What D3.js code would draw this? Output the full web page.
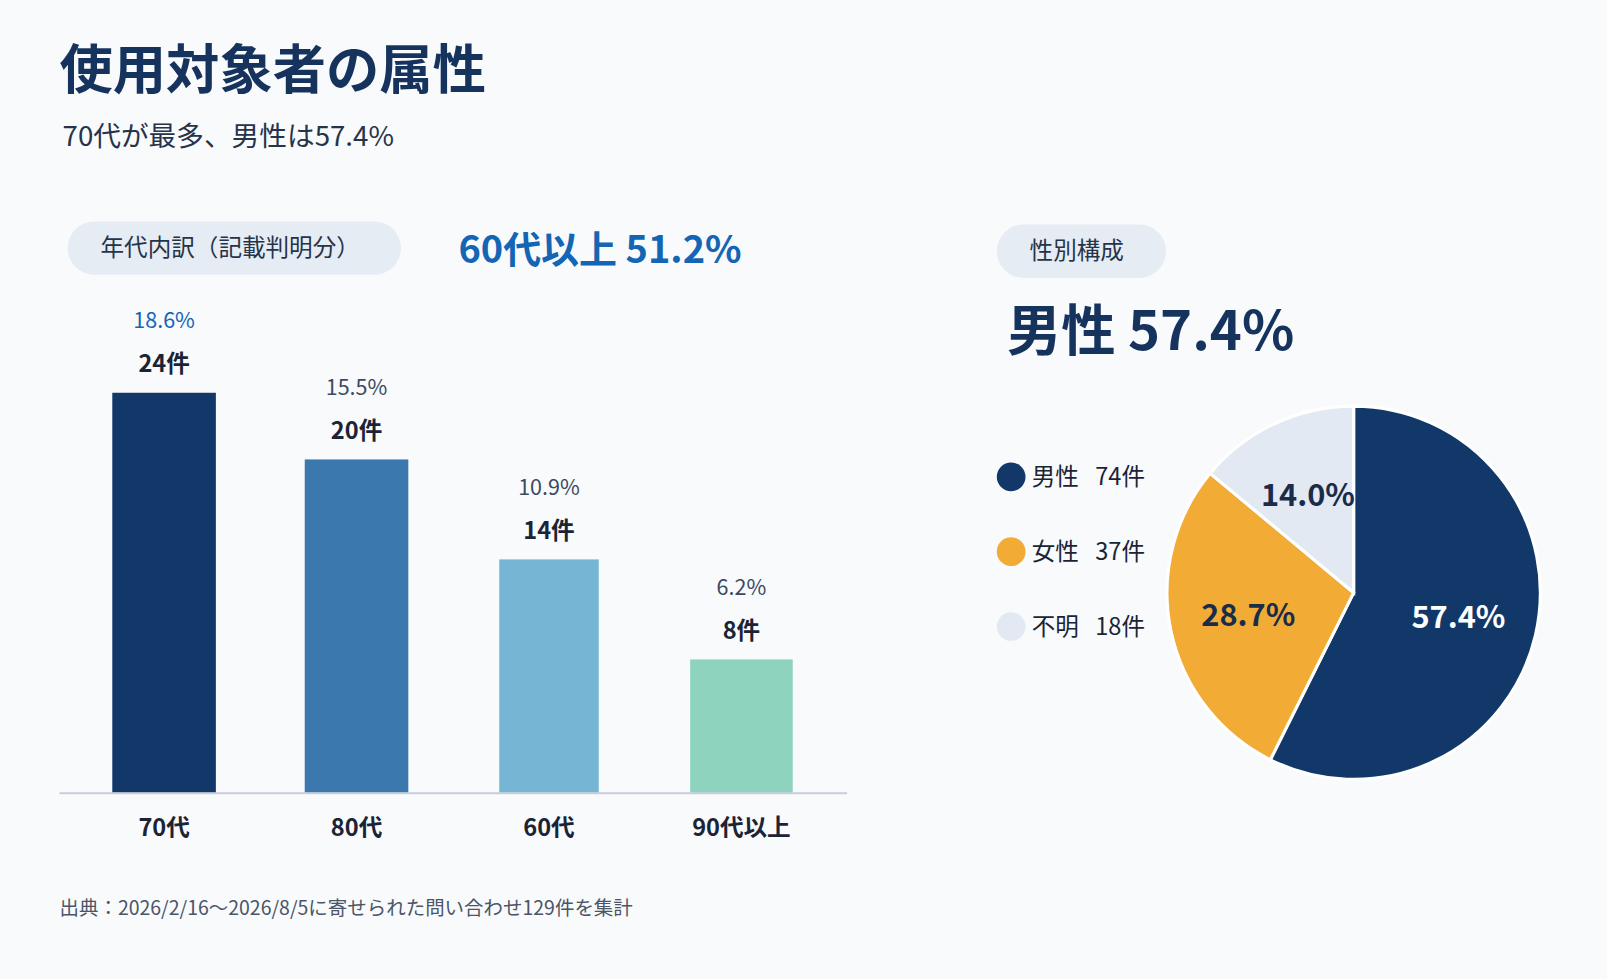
<!DOCTYPE html>
<html><head><meta charset="utf-8">
<script src="https://cdn.jsdelivr.net/npm/d3@7"></script>
<style>body{margin:0;background:#f8fafc;font-family:"Noto Sans CJK JP","Noto Sans",sans-serif}</style>
</head><body>
<script>
var ages = ["70代", "80代", "60代", "90代以上"];
var ageCounts = [24, 20, 14, 8];
var agePcts = ["18.6%", "15.5%", "10.9%", "6.2%"];
var ageColors = ["#12386a", "#3b78ae", "#76b6d4", "#8dd3bd"];

var genders = ["男性", "女性", "不明"];
var genderCounts = [74, 37, 18];
var genderPcts = ["57.4%", "28.7%", "14.0%"];
var genderColors = ["#12386a", "#f2ab35", "#e3e9f2"];

var root = d3.select("body").append("svg").attr("width", 1607).attr("height", 979);
root.append("rect").attr("width", 1607).attr("height", 979).attr("fill", "#f8fafc");
var svg = root.append("g").attr("transform", "scale(1.0255)");

svg.append("text").attr("x", 58).attr("y", 87).attr("font-size", 52).attr("font-weight", 700)
  .attr("fill", "#16335e").text("使用対象者の属性");
svg.append("text").attr("x", 61).attr("y", 142).attr("font-size", 27).attr("fill", "#26344a")
  .text("70代が最多、男性は57.4%");

function pill(x, y, w, label) {
  svg.append("rect").attr("x", x).attr("y", y).attr("width", w).attr("height", 52).attr("rx", 26).attr("fill", "#e6ecf3");
  svg.append("text").attr("x", x + 32).attr("y", y + 34).attr("font-size", 23).attr("fill", "#26344a").text(label);
}
pill(66, 216, 325, "年代内訳（記載判明分）");
svg.append("text").attr("x", 447).attr("y", 256).attr("font-size", 37).attr("font-weight", 700)
  .attr("fill", "#1565b5").text("60代以上 51.2%");
pill(972, 219, 165, "性別構成");
svg.append("text").attr("x", 982).attr("y", 341).attr("font-size", 53).attr("font-weight", 700)
  .attr("fill", "#16335e").text("男性 57.4%");

var x = d3.scalePoint().domain(ages).range([160, 723]);
var bandW = [101, 101, 97, 100];
var y = d3.scaleLinear().domain([0, 24]).range([773, 383]);
var g = svg.append("g");
g.selectAll("rect.bar").data(ages).enter().append("rect")
  .attr("x", function (d, i) { return x(d) - bandW[i] / 2; })
  .attr("y", function (d, i) { return y(ageCounts[i]); })
  .attr("width", function (d, i) { return bandW[i]; })
  .attr("height", function (d, i) { return y(0) - y(ageCounts[i]); })
  .attr("fill", function (d, i) { return ageColors[i]; });
g.selectAll("text.cnt").data(ages).enter().append("text")
  .attr("x", function (d) { return x(d); })
  .attr("y", function (d, i) { return y(ageCounts[i]) - 20; })
  .attr("text-anchor", "middle").attr("font-size", 23).attr("font-weight", 700).attr("fill", "#1a2436")
  .text(function (d, i) { return ageCounts[i] + "件"; });
g.selectAll("text.pct").data(ages).enter().append("text")
  .attr("x", function (d) { return x(d); })
  .attr("y", function (d, i) { return y(ageCounts[i]) - 63; })
  .attr("text-anchor", "middle").attr("font-size", 21)
  .attr("fill", function (d, i) { return i === 0 ? "#1565b5" : "#3a4a63"; })
  .text(function (d, i) { return agePcts[i]; });
svg.append("line").attr("x1", 58).attr("x2", 826).attr("y1", 773.5).attr("y2", 773.5)
  .attr("stroke", "#c8ced8").attr("stroke-width", 2);
g.selectAll("text.cat").data(ages).enter().append("text")
  .attr("x", function (d) { return x(d); }).attr("y", 815)
  .attr("text-anchor", "middle").attr("font-size", 23).attr("font-weight", 700).attr("fill", "#1a2436")
  .text(function (d) { return d; });

var pie = d3.pie().sort(null).value(function (d) { return d; });
var arcs = pie(genderCounts);
var arc = d3.arc().innerRadius(0).outerRadius(182);
var pg = svg.append("g").attr("transform", "translate(1320,578)");
pg.selectAll("path").data(arcs).enter().append("path")
  .attr("d", arc).attr("fill", function (d, i) { return genderColors[i]; })
  .attr("stroke", "#fff").attr("stroke-width", 3);
var labelArc = d3.arc().innerRadius(105).outerRadius(105);
pg.selectAll("text").data(arcs).enter().append("text")
  .attr("transform", function (d) { return "translate(" + labelArc.centroid(d) + ")"; })
  .attr("text-anchor", "middle").attr("dy", "0.35em").attr("font-size", 30).attr("font-weight", 700)
  .attr("fill", function (d, i) { return i === 0 ? "#fff" : "#1a2c4a"; })
  .text(function (d, i) { return genderPcts[i]; });

var lg = svg.append("g");
genders.forEach(function (name, i) {
  var ly = 465 + i * 73;
  lg.append("circle").attr("cx", 986).attr("cy", ly).attr("r", 14).attr("fill", genderColors[i]);
  lg.append("text").attr("x", 1006).attr("y", ly + 8).attr("font-size", 23).attr("fill", "#1a2436")
    .text(name);
  lg.append("text").attr("x", 1068).attr("y", ly + 8).attr("font-size", 23).attr("fill", "#1a2436")
    .text(genderCounts[i] + "件");
});

svg.append("text").attr("x", 58).attr("y", 892).attr("font-size", 19).attr("fill", "#4a5568")
  .text("出典：2026/2/16〜2026/8/5に寄せられた問い合わせ129件を集計");
</script>
</body></html>
